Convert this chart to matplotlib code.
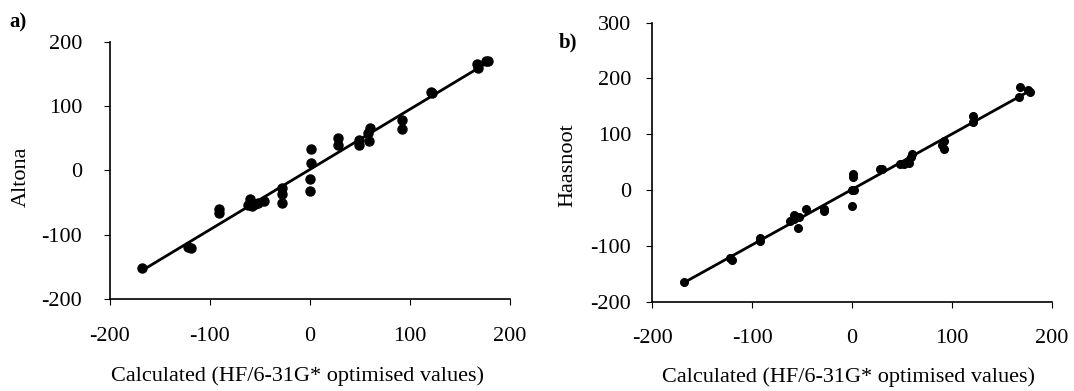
import numpy as np
import matplotlib
matplotlib.use("Agg")
import matplotlib.pyplot as plt

plt.rcParams['font.family'] = ['Liberation Serif', 'DejaVu Serif']
plt.rcParams['axes.unicode_minus'] = False

# panel a) Altona vs calculated
calc_a = [-168, -122, -119, -91, -91, -60, -60, -58, -55, -52, -46, -62,
          -28, -28, -28, 1, 1, 0, 0, 28, 28, 49, 49, 60, 58, 59, 92, 92,
          121, 122, 167, 168, 176, 178]
altona = [-152, -119, -121, -60, -66, -44, -50, -56, -52, -50, -47, -54,
          -28, -37, -50, 33, 12, -14, -32, 50, 40, 47, 40, 66, 59, 46, 78, 65,
          122, 121, 166, 160, 170, 170]

# panel b) Haasnoot vs calculated
calc_b = [-168, -120, -122, -92, -92, -58, -62, -53, -54, -58, -46, -28, -28,
          1, 1, 0, 2, 0, 28, 30, 48, 52, 57, 59, 60, 56, 92, 92, 90,
          121, 121, 167, 168, 176, 178]
haasnoot = [-164, -125, -122, -85, -91, -44, -56, -48, -68, -52, -34, -33, -38,
            28, 23, 0, 0, -28, 37, 38, 46, 46, 48, 60, 64, 52, 88, 74, 80,
            132, 122, 166, 184, 180, 175]

xlabel = "Calculated (HF/6-31G* optimised values)"

fig = plt.figure(figsize=(10.74, 3.91), dpi=100)
ax_a = fig.add_axes([0.1024, 0.2353, 0.3724, 0.6573])
ax_b = fig.add_axes([0.6071, 0.2284, 0.3724, 0.7136])


def draw(ax, x, y, ylim, yticks, ylabel, ms, ypad, ylab_xy, xlab_xy):
    x = np.array(x, dtype=float)
    y = np.array(y, dtype=float)
    ax.plot(x, y, 'o', color='black', markersize=ms, zorder=3)
    # regression line through the points
    k, b = np.polyfit(x, y, 1)
    xl = np.array([x.min(), x.max() - 4])
    ax.plot(xl, k * xl + b, color='black', linewidth=2)
    ax.set_xlim(-200, 200)
    ax.set_ylim(*ylim)
    ax.set_xticks([-200, -100, 0, 100, 200])
    ax.set_yticks(yticks)
    for s in ['top', 'right']:
        ax.spines[s].set_visible(False)
    for s in ['left', 'bottom']:
        ax.spines[s].set_linewidth(1.2)
    ax.tick_params(axis='x', direction='out', length=4, pad=16, labelsize=16)
    ax.tick_params(axis='y', direction='out', length=4, pad=ypad, labelsize=16)
    ax.set_xlabel(xlabel, fontsize=16, va='center')
    ax.xaxis.set_label_coords(*xlab_xy)
    ax.set_ylabel(ylabel, fontsize=16, va='center')
    ax.yaxis.set_label_coords(*ylab_xy)


draw(ax_a, calc_a, altona, (-200, 200), [-200, -100, 0, 100, 200], "Altona",
     6.5, 16, (-0.222, 0.475), (0.47, -0.30))
draw(ax_b, calc_b, haasnoot, (-200, 300), [-200, -100, 0, 100, 200, 300], "Haasnoot",
     5.5, 11, (-0.21, 0.49), (0.49, -0.27))

fig.text(18 / 1074, 1 - 22 / 391, "a)", fontsize=15, fontweight='bold', ha='center', va='center')
fig.text(568 / 1074, 1 - 42 / 391, "b)", fontsize=15, fontweight='bold', ha='center', va='center')

fig.savefig("out.png", dpi=100)
plt.close(fig)
